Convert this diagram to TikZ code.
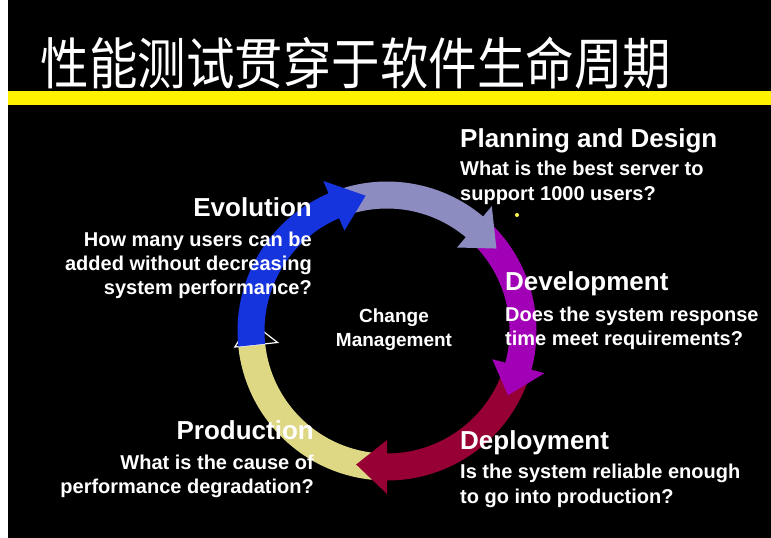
\documentclass[tikz,border=0pt]{standalone}
\usepackage{fontspec}
\usepackage{graphicx}
\setmainfont{Liberation Sans}
\newfontfamily\cjk{Noto Sans CJK SC}
\definecolor{cblue}{RGB}{22,52,222}
\definecolor{clav}{RGB}{140,140,192}
\definecolor{cpurp}{RGB}{162,0,182}
\definecolor{cred}{RGB}{150,0,52}
\definecolor{cyel}{RGB}{222,216,132}
\newcommand{\ringarrow}[4]{\fill[#1] (#2:149.5) arc[start angle=#2,end angle=#3,radius=149.5] -- (#3:163) -- (#4:137) -- (#3:109) -- (#3:122.5) arc[start angle=#3,end angle=#2,radius=122.5] -- cycle;}
\begin{document}
\begin{tikzpicture}[x=1pt,y=1pt,
  lbl/.style={text=white, inner sep=0pt, font=\bfseries\fontsize{20}{24}\selectfont},
  hd/.style={text=white, inner sep=0pt, font=\bfseries\fontsize{26}{30}\selectfont}]
\useasboundingbox (0,0) rectangle (771,-538);
\fill[black] (0,0) rectangle (771,-538);
\fill[white] (0,0) rectangle (8,-538);
\fill[yellow] (8,-91) rectangle (771,-105);
\node[inner sep=0pt,text=white] (title) at (356,-63) {\scalebox{1}[1.15]{\cjk\fontsize{48.5}{56}\selectfont 性能测试贯穿于软件生命周期}};
\begin{scope}[shift={(387,-331)}]
  % yellow body
  \fill[cyel] (-93:149.5) arc[start angle=-93,end angle=-174,radius=149.5] -- (-174:122.5) arc[start angle=-174,end angle=-93,radius=122.5] -- cycle;
  \filldraw[fill=black,draw=white,line width=1.2pt] (-174:153) -- (-184:137) -- (-174:110) -- cycle;
  \ringarrow{cred}{-20}{-90}{-103}
  \ringarrow{cpurp}{46}{-15}{-28}
  \ringarrow{clav}{113}{50}{37}
  \ringarrow{cblue}{186}{113}{99}
\end{scope}
\node[circle,fill=yellow!70!white,inner sep=0pt,minimum size=4pt] (dot) at (517,-215) {};
% Planning and Design
\node[hd,anchor=base west] (plan) at (460,-147) {Planning and Design};
\node[lbl,anchor=base west] (plan1) at (460,-175) {What is the best server to};
\node[lbl,anchor=base west] (plan2) at (460,-200) {support 1000 users?};
% Evolution
\node[hd,anchor=base east] (evo) at (312,-216) {Evolution};
\node[lbl,anchor=base east] (evo1) at (312,-246) {How many users can be};
\node[lbl,anchor=base east] (evo2) at (312,-270) {added without decreasing};
\node[lbl,anchor=base east] (evo3) at (312,-294) {system performance?};
% Development
\node[hd,anchor=base west] (dev) at (505,-290) {Development};
\node[lbl,anchor=base west] (dev1) at (505,-321) {Does the system response};
\node[lbl,anchor=base west] (dev2) at (505,-345) {time meet requirements?};
% Change Management
\node[lbl,anchor=base,font=\bfseries\fontsize{19}{23}\selectfont] (chg1) at (394,-322) {Change};
\node[lbl,anchor=base,font=\bfseries\fontsize{19}{23}\selectfont] (chg2) at (394,-346) {Management};
% Production
\node[hd,anchor=base east] (prod) at (314,-439) {Production};
\node[lbl,anchor=base east] (prod1) at (314,-469) {What is the cause of};
\node[lbl,anchor=base east] (prod2) at (314,-493) {performance degradation?};
% Deployment
\node[hd,anchor=base west] (dep) at (460,-449) {Deployment};
\node[lbl,anchor=base west] (dep1) at (460,-478) {Is the system reliable enough};
\node[lbl,anchor=base west] (dep2) at (460,-503) {to go into production?};
\end{tikzpicture}
\end{document}
